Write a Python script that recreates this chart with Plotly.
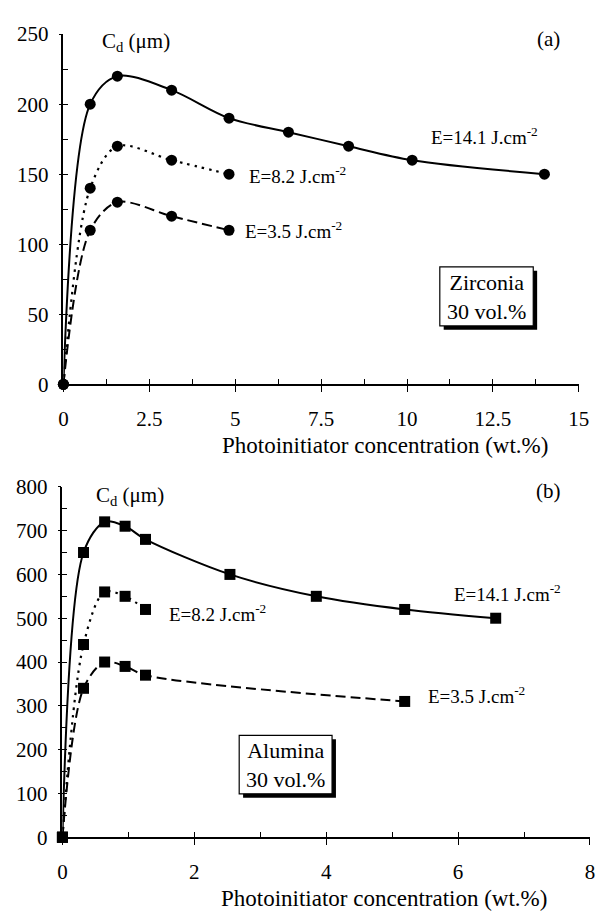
import plotly.graph_objects as go

W, H = 601, 922
FONT = "Liberation Serif"

# ---------------- data: (a) Zirconia 30 vol.% ----------------
zr_x_141 = [0, 0.78, 1.57, 3.15, 4.82, 6.55, 8.3, 10.15, 14.0]
zr_y_141 = [0, 200, 220, 210, 190, 180, 170, 160, 150]
zr_x_82 = [0, 0.78, 1.57, 3.15, 4.82]
zr_y_82 = [0, 140, 170, 160, 150]
zr_x_35 = [0, 0.78, 1.57, 3.15, 4.82]
zr_y_35 = [0, 110, 130, 120, 110]

# ---------------- data: (b) Alumina 30 vol.% ----------------
al_x_141 = [0, 0.32, 0.64, 0.95, 1.26, 2.54, 3.85, 5.19, 6.57]
al_y_141 = [0, 650, 720, 710, 680, 600, 550, 520, 500]
al_x_82 = [0, 0.32, 0.64, 0.95, 1.26]
al_y_82 = [0, 440, 560, 550, 520]
al_x_35 = [0, 0.32, 0.64, 0.95, 1.26, 5.19]
al_y_35 = [0, 340, 400, 390, 370, 310]

top_xticks = [0, 2.5, 5, 7.5, 10, 12.5, 15]
top_yticks = [0, 50, 100, 150, 200, 250]
bot_xticks = [0, 2, 4, 6, 8]
bot_yticks = [0, 100, 200, 300, 400, 500, 600, 700, 800]


def px(x):
    return x / W


def py(y):
    return 1 - y / H


# axis domains (pixel measurements of the reference)
TOP_X = [px(60), px(589.5)]
TOP_Y = [py(382.3), py(22.7)]
BOT_X = [px(59), 1.0]
BOT_Y = [py(847.3), py(487.5)]

fig = go.Figure()

styles = {
    "141": dict(color="black", width=2, dash="solid"),
    "82": dict(color="black", width=2.2, dash="2.5px,5px"),
    "35": dict(color="black", width=2, dash="10px,5px"),
}


def add(xs, ys, key, sym, xa, ya):
    fig.add_trace(go.Scatter(
        x=xs, y=ys, mode="lines+markers", xaxis=xa, yaxis=ya,
        line=dict(shape="spline", smoothing=0.9, **styles[key]),
        marker=dict(symbol=sym, size=11, color="black"),
        cliponaxis=False, showlegend=False, hoverinfo="skip"))


add(zr_x_35, zr_y_35, "35", "circle", "x", "y")
add(zr_x_82, zr_y_82, "82", "circle", "x", "y")
add(zr_x_141, zr_y_141, "141", "circle", "x", "y")
add(al_x_35, al_y_35, "35", "square", "x2", "y2")
add(al_x_82, al_y_82, "82", "square", "x2", "y2")
add(al_x_141, al_y_141, "141", "square", "x2", "y2")

# dummy traces for overlay axes (inside ticks)
for xa, ya in (("x3", "y3"), ("x4", "y4")):
    fig.add_trace(go.Scatter(x=[None], y=[None], xaxis=xa, yaxis=ya,
                             showlegend=False, hoverinfo="skip"))

tickfont = dict(family=FONT, size=21, color="black")


def xax(domain, rng, ticks, anchor):
    return dict(domain=domain, range=rng, tickvals=ticks, ticks="outside",
                ticklen=6, tickwidth=1.3, tickcolor="black", showline=True,
                linecolor="black", linewidth=1.5, showgrid=False, zeroline=False,
                tickfont=tickfont, anchor=anchor, ticklabeloverflow="allow",
                ticklabelstandoff=9, fixedrange=True)


def yax(domain, rng, ticks, anchor):
    return dict(domain=domain, range=rng, tickvals=ticks, ticks="outside",
                ticklen=3, tickwidth=1.3, tickcolor="black", showline=True,
                linecolor="black", linewidth=1.5, showgrid=False, zeroline=False,
                tickfont=tickfont, anchor=anchor, ticklabelstandoff=6,
                fixedrange=True)


def xin(domain, rng, dt, anchor, over):
    return dict(domain=domain, range=rng, dtick=dt, tick0=0, ticks="inside",
                ticklen=5, tickwidth=1.3, tickcolor="black", showline=False,
                showgrid=False, zeroline=False, showticklabels=False,
                anchor=anchor, overlaying=over, fixedrange=True)


fig.update_layout(
    width=W, height=H, autosize=False,
    margin=dict(l=0, r=0, t=0, b=0),
    paper_bgcolor="white", plot_bgcolor="white",
    xaxis=xax(TOP_X, [0, 15], top_xticks, "y"),
    yaxis=yax(TOP_Y, [0, 250], top_yticks, "x"),
    xaxis2=xax(BOT_X, [0, 8], bot_xticks, "y2"),
    yaxis2=yax(BOT_Y, [0, 800], bot_yticks, "x2"),
    xaxis3=xin(TOP_X, [0, 15], 1.25, "y3", "x"),
    yaxis3=xin(TOP_Y, [0, 250], 25, "x3", "y"),
    xaxis4=xin(BOT_X, [0, 8], 1, "y4", "x2"),
    yaxis4=xin(BOT_Y, [0, 800], 50, "x4", "y2"),
)

ann = []


def text(t, x, y, size, xanchor="left", align="left"):
    ann.append(dict(text=t, x=px(x), y=py(y), xref="paper", yref="paper",
                    xanchor=xanchor, yanchor="middle", showarrow=False,
                    align=align,
                    font=dict(family=FONT, size=size, color="black")))


E = "J.cm<sup>-2</sup>"
# panel (a)
text("C<sub>d</sub> (μm)", 98, 31, 21)
text("(a)", 558, 28, 21, "center")
text("E=14.1 " + E, 436, 127, 19)
text("E=8.2 " + E, 249, 167, 19)
text("E=3.5 " + E, 245, 224, 19)
text("Photoinitiator concentration (wt.%)", 390, 445, 23, "center")
text("Zirconia<br>30 vol.%", 494.7, 292.5, 22, "center", "center")
# panel (b)
text("C<sub>d</sub> (μm)", 91, 497, 21)
text("(b)", 558, 492, 21, "center")
text("E=14.1 " + E, 459, 597, 19)
text("E=8.2 " + E, 166, 617, 19)
text("E=3.5 " + E, 433, 701, 19)
text("Photoinitiator concentration (wt.%)", 389, 910, 23, "center")
text("Alumina<br>30 vol.%", 288.3, 773, 22, "center", "center")

fig.update_layout(annotations=ann)

shapes = []


def box(x0, y0, x1, y1):
    shapes.append(dict(type="rect", xref="paper", yref="paper",
                       x0=px(x0 + 4), x1=px(x1 + 4), y0=py(y1 + 4), y1=py(y0 + 4),
                       fillcolor="black", line=dict(width=0), layer="below"))
    shapes.append(dict(type="rect", xref="paper", yref="paper",
                       x0=px(x0), x1=px(x1), y0=py(y1), y1=py(y0),
                       fillcolor="white", line=dict(color="black", width=1.2),
                       layer="below"))


box(446.7, 261.7, 542.7, 322.3)
box(240.6, 742.7, 336.0, 802.7)
fig.update_layout(shapes=shapes)

fig.write_html("out.html")
